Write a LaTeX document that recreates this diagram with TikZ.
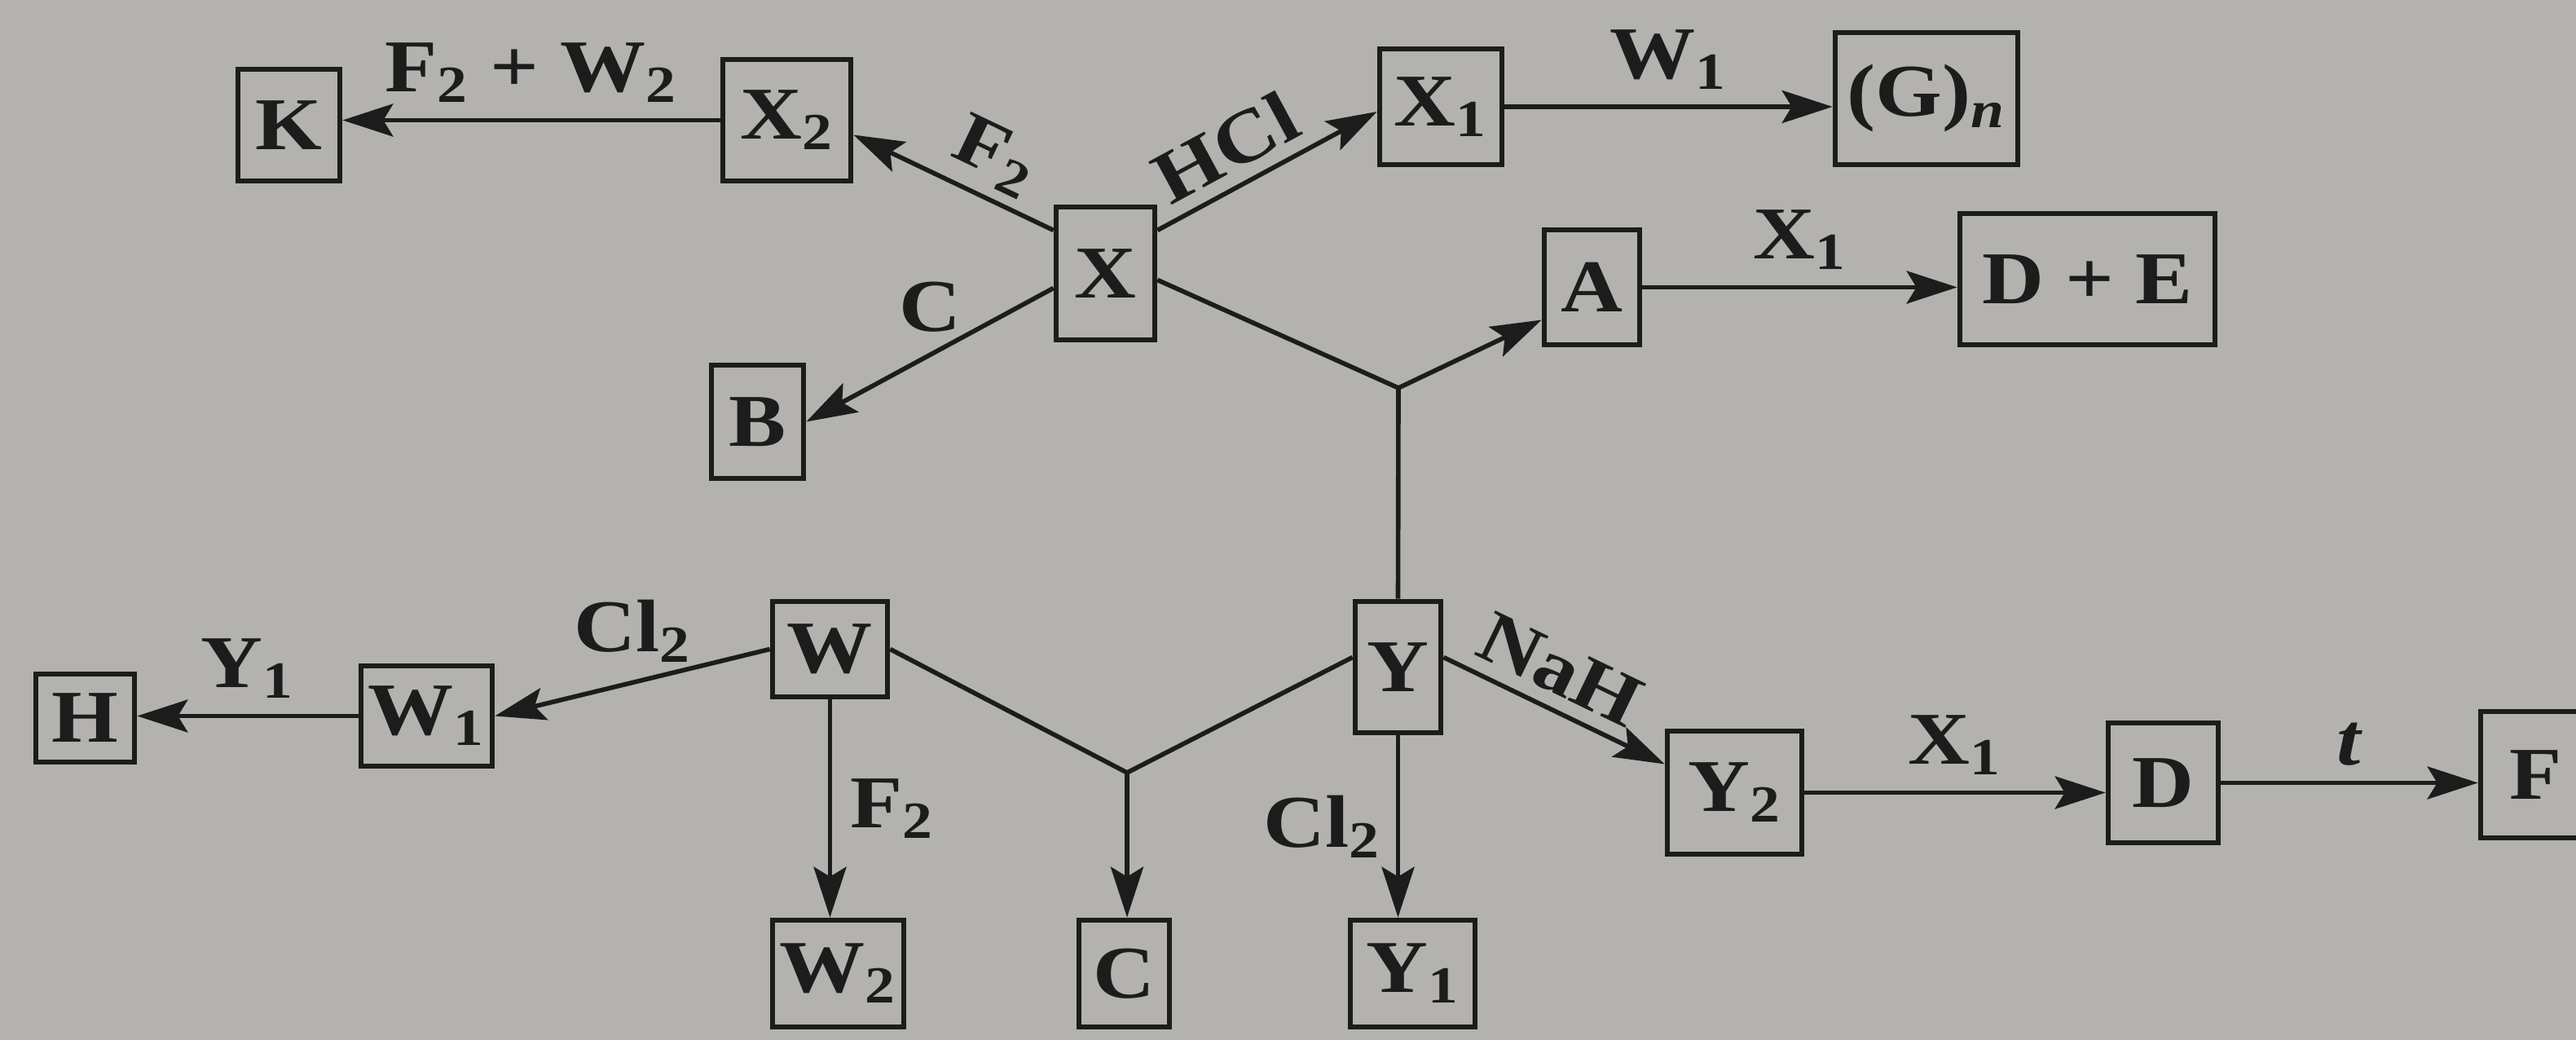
\documentclass[tikz,border=0pt]{standalone}
\usepackage{fontspec}
\setmainfont{Liberation Serif}[FakeStretch=1.15]
\usetikzlibrary{arrows.meta, positioning}

\definecolor{paper}{RGB}{180,178,174}
\definecolor{ink}{RGB}{28,28,28}
\newcommand{\chsub}[1]{\textsubscript{#1}}

\tikzset{
  box/.style 2 args={draw=ink, line width=1.9pt, minimum width=#1cm, minimum height=#2cm, inner sep=0pt},
  conn/.style={draw=ink, line width=1.6pt},
  arr/.style={conn, -{Stealth[length=0.62cm,width=0.4cm,inset=0.12cm]}},
}

\begin{document}
\begin{tikzpicture}[font=\fontsize{26}{30}\selectfont\bfseries, text=ink]

\fill[paper] (0,0) rectangle (31.61,12.76);
\useasboundingbox (0,0) rectangle (31.61,12.76);

% boxes, upper part
\node[box={1.25}{1.37}] (K) at (3.545,11.225) {K};
\node[box={1.57}{1.49}] (X2) at (9.655,11.285) {X\chsub{2}};
\node[box={1.21}{1.63}] (X) at (13.565,9.405) {X};
\node[box={1.50}{1.42}] (X1) at (17.68,11.45) {X\chsub{1}};
\node[box={2.24}{1.62}] (G) at (23.64,11.55) {(G)\chsub{\textit{n}}};
\node[box={1.17}{1.41}] (A) at (19.535,9.235) {A};
\node[box={3.13}{1.61}] (DE) at (25.615,9.335) {D + E};
\node[box={1.13}{1.39}] (B) at (9.295,7.585) {B};

% boxes, lower part
\node[box={1.05}{1.61}] (Y) at (17.155,4.575) {Y};
\node[box={1.41}{1.17}] (W) at (10.185,4.795) {W};
\node[box={1.61}{1.23}] (W1) at (5.235,3.975) {W\chsub{1}};
\node[box={1.21}{1.08}] (H) at (1.045,3.95) {H};
\node[box={1.61}{1.31}] (W2) at (10.285,0.815) {W\chsub{2}};
\node[box={1.11}{1.31}] (C) at (13.795,0.815) {C};
\node[box={1.53}{1.31}] (Y1) at (17.335,0.815) {Y\chsub{1}};
\node[box={1.65}{1.51}] (Y2) at (21.285,3.035) {Y\chsub{2}};
\node[box={1.35}{1.47}] (D) at (26.545,3.155) {D};
\node[box={1.35}{1.55}] (F) at (31.115,3.255) {F};

% meeting points
\coordinate (jtop) at (17.16,8.00);
\coordinate (jbot) at (13.83,3.28);

% reactions of X
\draw[arr] (X2.west) -- (X2.west -| K.east) node[midway, above=2pt] {F\chsub{2} + W\chsub{2}};
\draw[arr] ([yshift=0.53cm]X.west) -- ([yshift=-0.18cm]X2.east) node[pos=0.38, above=0pt, sloped] {F\chsub{2}};
\draw[arr] ([yshift=0.53cm]X.east) -- ([yshift=-0.06cm]X1.west) node[pos=0.4, above=1pt, sloped] {HCl};
\draw[arr] (X1.east) -- (X1.east -| G.west) node[midway, above=2pt] {W\chsub{1}};
\draw[arr] ([yshift=-0.18cm]X.west) -- (B.east) node[midway, above=4pt] {C};
\draw[conn] ([yshift=-0.08cm]X.east) -- (jtop);
\draw[conn] (Y.north) -- (jtop);
\draw[arr] (jtop) -- ([yshift=-0.4cm]A.west);
\draw[arr] (A.east) -- (A.east -| DE.west) node[midway, above=2pt] {X\chsub{1}};

% reactions of W and Y
\draw[arr] (W.west) -- (W1.east) node[midway, above=3pt] {Cl\chsub{2}};
\draw[arr] (W1.west) -- (W1.west -| H.east) node[midway, above=2pt] {Y\chsub{1}};
\draw[arr] (W.south) -- (W.south |- W2.north) node[midway, right=3pt] {F\chsub{2}};
\draw[conn] (W.east) -- (jbot);
\draw[conn] ([yshift=0.12cm]Y.west) -- (jbot);
\draw[arr] (jbot) -- (jbot |- C.north);
\draw[arr] (Y.south) -- (Y.south |- Y1.north) node[midway, left=2pt] {Cl\chsub{2}};
\draw[arr] ([yshift=0.12cm]Y.east) -- ([yshift=0.35cm]Y2.west) node[pos=0.45, above=1pt, sloped] {NaH};
\draw[arr] (Y2.east) -- (Y2.east -| D.west) node[midway, above=2pt] {X\chsub{1}};
\draw[arr] (D.east) -- (D.east -| F.west) node[midway, above=2pt] {\textit{t}};

\end{tikzpicture}
\end{document}
